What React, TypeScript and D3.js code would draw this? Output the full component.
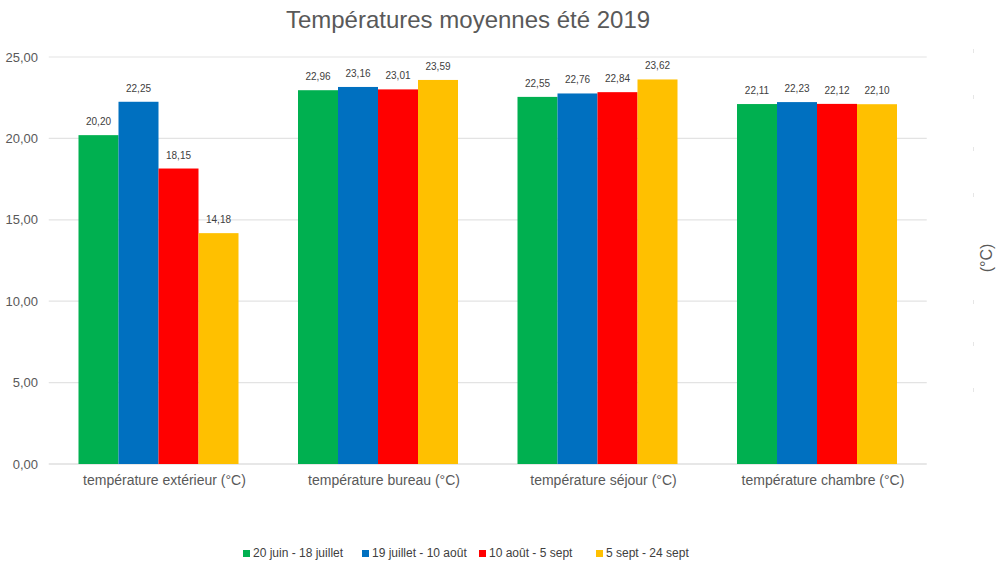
import React from "react";
import * as d3 from "d3";

const categories = [
  "température extérieur (°C)",
  "température bureau (°C)",
  "température séjour (°C)",
  "température chambre (°C)",
];
const seriesNames = ["20 juin - 18 juillet", "19 juillet - 10 août", "10 août - 5 sept", "5 sept - 24 sept"];
const seriesColors = ["#00b050", "#0070c0", "#ff0000", "#ffc000"];
const s1 = [20.2, 22.96, 22.55, 22.11];
const s2 = [22.25, 23.16, 22.76, 22.23];
const s3 = [18.15, 23.01, 22.84, 22.12];
const s4 = [14.18, 23.59, 23.62, 22.1];
const seriesValues = [s1, s2, s3, s4];
const yTicks = [0, 5, 10, 15, 20, 25];
const rightTicks = [49, 95, 147, 193, 300, 342, 388];

const W = 1000;
const H = 563;
const left = 48.75;
const right = 926.75;
const top = 57;
const bottom = 464;

const fmt = (v: number) => v.toFixed(2).replace(".", ",");

export default function App() {
  const x = d3.scaleBand<string>().domain(categories).range([left, right]).paddingInner(0).paddingOuter(0);
  const y = d3.scaleLinear().domain([0, 25]).range([bottom, top]);
  const barW = 40;
  const groupW = barW * seriesNames.length;
  const font = "'Liberation Sans', Arial, sans-serif";
  const legendX = [243, 362, 479, 596];

  return (
    <svg width={W} height={H} style={{ position: "absolute", left: 0, top: 0, background: "#fff" }} fontFamily={font}>
      <rect width={W} height={H} fill="#fff" />
      <text x={468} y={28} textAnchor="middle" fontSize={24} fill="#595959">
        Températures moyennes été 2019
      </text>
      {yTicks.map((t) => (
        <g key={t}>
          <line x1={left} x2={right} y1={y(t)} y2={y(t)} stroke={t === 0 ? "#d0d0d0" : "#e3e3e3"} strokeWidth={1.2} />
          <text x={38} y={y(t) + 4.5} textAnchor="end" fontSize={13} fill="#595959">
            {fmt(t)}
          </text>
        </g>
      ))}
      {categories.map((c, ci) => {
        const gx = (x(c) as number) + (x.bandwidth() - groupW) / 2;
        return (
          <g key={c}>
            {seriesValues.map((vals, si) => {
              const v = vals[ci];
              const bx = gx + si * barW;
              return (
                <g key={si}>
                  <rect x={bx} y={y(v)} width={barW} height={bottom - y(v)} fill={seriesColors[si]} />
                  <text x={bx + barW / 2} y={y(v) - 10} textAnchor="middle" fontSize={10} fill="#404040">
                    {fmt(v)}
                  </text>
                </g>
              );
            })}
            <text x={(x(c) as number) + x.bandwidth() / 2 + 6} y={485} textAnchor="middle" fontSize={14} fill="#595959">
              {c}
            </text>
          </g>
        );
      })}
      {rightTicks.map((t) => (
        <line key={t} x1={973.5} x2={973.5} y1={t} y2={t + 4} stroke="#e6e6e6" strokeWidth={1} />
      ))}
      <text transform="translate(992,258) rotate(-90)" textAnchor="middle" fontSize={16} fill="#595959">
        (°C)
      </text>
      {seriesNames.map((n, i) => (
        <g key={n}>
          <rect x={legendX[i]} y={550} width={7} height={7} fill={seriesColors[i]} />
          <text x={legendX[i] + 10} y={557} fontSize={12} fill="#404040">
            {n}
          </text>
        </g>
      ))}
    </svg>
  );
}
